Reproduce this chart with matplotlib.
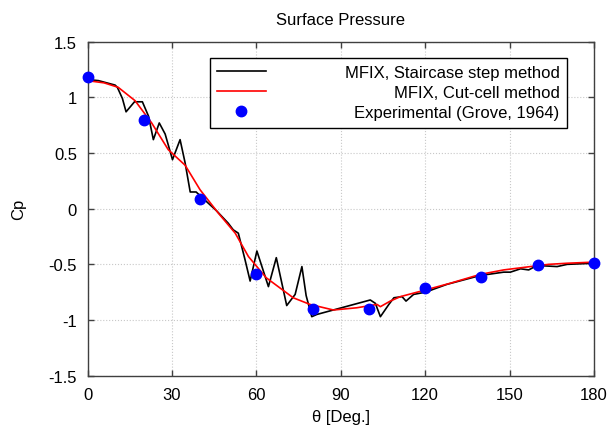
import matplotlib
matplotlib.use('Agg')
import matplotlib.pyplot as plt

# MFIX, staircase step method (jagged)
stair_theta = [0, 3.9, 9.8, 10.6, 12.4, 13.7, 16.7, 19.5, 21.7, 23.4,
               25.5, 27.6, 30.2, 32.9, 34.7, 36.5, 38.6, 42.9, 45.9, 50,
               51.8, 53.6, 56, 57.8, 60.2, 64.3, 67.1, 70.8, 73.8, 76.2,
               77.7, 79.7, 81.5, 100.5, 102.3, 104.1, 107.1, 108.9, 111.8, 113.2,
               115.9, 120.1, 127.7, 139.6, 147.9, 150.3, 153.9, 156.8, 159.8, 166.9,
               170.5, 180]
stair_cp = [1.16, 1.15, 1.11, 1.09, 0.99, 0.87, 0.96, 0.96, 0.83, 0.62,
            0.77, 0.67, 0.44, 0.62, 0.41, 0.15, 0.15, 0.05, -0.02, -0.13,
            -0.19, -0.22, -0.46, -0.65, -0.38, -0.70, -0.44, -0.87, -0.77, -0.52,
            -0.78, -0.97, -0.95, -0.82, -0.85, -0.97, -0.86, -0.80, -0.79, -0.83,
            -0.77, -0.75, -0.68, -0.60, -0.57, -0.57, -0.54, -0.55, -0.51, -0.52,
            -0.50, -0.49]

# MFIX, cut-cell method (smooth)
cut_theta = [0, 5.9, 10.9, 16.9, 22.8, 28.7, 34.7, 40, 46.5, 52.5, 57.2, 63.5, 68.3, 73.1,
             79.1, 87.4, 95.7, 102.9, 104.1, 107.6, 111.2, 120.1, 128.9, 139.6, 147.9,
             157.4, 163.9, 170.5, 180]
cut_cp = [1.15, 1.13, 1.09, 0.97, 0.77, 0.53, 0.39, 0.17, -0.04, -0.22, -0.43, -0.62, -0.71, -0.80,
          -0.86, -0.91, -0.89, -0.86, -0.88, -0.83, -0.79, -0.73, -0.67, -0.59, -0.55,
          -0.52, -0.50, -0.49, -0.48]

# experimental (Grove, 1964)
exp_theta = [0, 20, 40, 60, 80, 100, 120, 140, 160, 180]
exp_cp = [1.18, 0.80, 0.09, -0.59, -0.90, -0.90, -0.71, -0.61, -0.51, -0.49]

plt.rcParams['font.family'] = ['Liberation Sans', 'DejaVu Sans']
plt.rcParams['font.size'] = 12

fig = plt.figure(figsize=(6.12, 4.31), dpi=100)
ax = fig.add_axes([0.143, 0.126, 0.8275, 0.775])

ax.plot(stair_theta, stair_cp, color='black', lw=1.2, label='MFIX, Staircase step method')
ax.plot(cut_theta, cut_cp, color='red', lw=1.2, label='MFIX, Cut-cell method')
ax.plot(exp_theta, exp_cp, 'o', color='blue', ms=7.5, label='Experimental (Grove, 1964)',
        clip_on=False, zorder=5)

ax.set_xlim(0, 180)
ax.set_ylim(-1.5, 1.5)
ax.set_xticks(range(0, 181, 30))
ax.set_yticks([-1.5, -1, -0.5, 0, 0.5, 1, 1.5])
ax.set_yticklabels(['-1.5', '-1', '-0.5', '0', '0.5', '1', '1.5'])
ax.tick_params(direction='in', top=True, right=True, length=4, width=1, color='#404040')
ax.tick_params(axis='x', pad=8)
ax.tick_params(axis='y', pad=7.5)
ax.grid(True, color='#c8c8c8', linestyle=':', linewidth=0.8)
for s in ax.spines.values():
    s.set_linewidth(1)
    s.set_color('#404040')

ax.set_title('Surface Pressure', fontsize=12, pad=13)
ax.set_xlabel('θ [Deg.]', labelpad=5)
ax.set_ylabel('Cp', labelpad=16)

leg = ax.legend(loc='upper right', bbox_to_anchor=(0.947, 0.952), fancybox=False,
                edgecolor='black', framealpha=1, handlelength=2.9, borderpad=0.45,
                labelspacing=0.3, handletextpad=1.0, borderaxespad=0)
leg.get_frame().set_linewidth(1)

# right-justify the legend labels: widen the gap between handle and shorter labels
fig.canvas.draw()
r = fig.canvas.get_renderer()
widths = [t.get_window_extent(r).width for t in leg.get_texts()]
wmax = max(widths)
rows = [row for col in leg._legend_handle_box.get_children() for row in col.get_children()]
for row, wd in zip(rows, widths):
    row.sep += 3.75 * 12 + (wmax - wd) * 72 / fig.dpi

fig.savefig('out.png', dpi=100)
